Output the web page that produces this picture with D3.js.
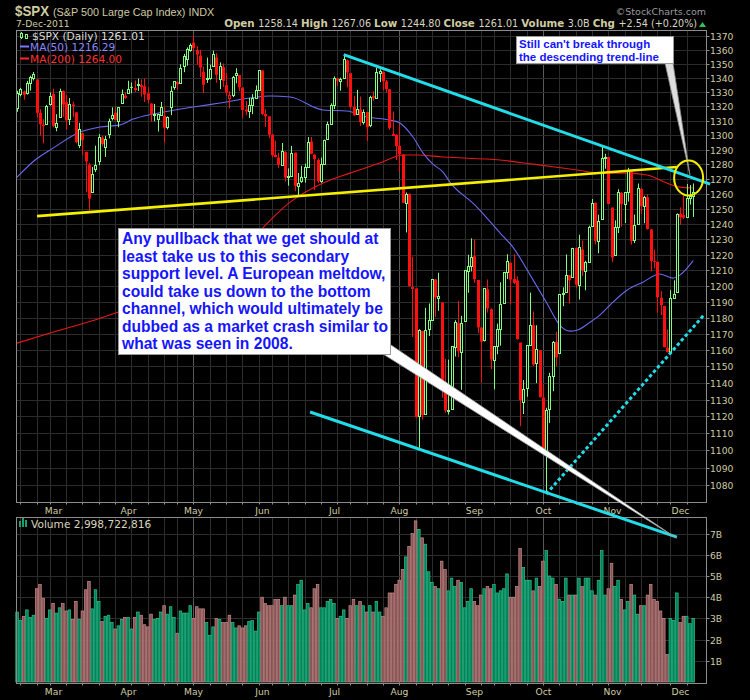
<!DOCTYPE html>
<html><head><meta charset="utf-8">
<script src="https://cdn.jsdelivr.net/npm/d3@7"></script>
<style>body{margin:0;background:#000}svg{display:block}</style>
</head><body><svg id="c" width="750" height="700"></svg>
<script>
// ---------------- DATA ----------------
const holidays = ["2011-02-21","2011-04-22","2011-05-30","2011-07-04","2011-09-05","2011-11-24"];
const firstDay = "2011-02-11", lastDay = "2011-12-07";

const opens = [
1318.7,1328.7,1330.4,1329.0,1336.3,1340.4,1338.9,1315.4,1307.1,1307.3,1321.6,
1328.6,1305.5,1312.4,1330.7,1322.7,1311.1,1321.2,1315.7,1293.4,1301.2,1288.5,1279.5,1261.6,1276.7,1281.7,1298.3,1292.2,1300.6,1311.8,1315.5,1309.4,1321.9,1327.4,
1329.5,1333.6,1332.0,1334.8,1334.8,1334.0,1329.0,1321.9,1314.0,1311.1,1314.0,1313.4,1305.6,1319.4,1333.2,1337.1,1336.8,1348.4,1353.2,1360.1,
1365.2,1359.8,1355.9,1344.2,1340.2,1340.2,1348.3,1354.5,1339.4,1347.6,1334.8,1326.1,1328.3,1342.4,1342.0,1333.1,1317.7,1316.4,1320.6,1325.7,1331.1,
1345.2,1314.5,1312.9,1300.3,1286.3,1284.6,1279.6,1288.3,1271.2,1272.2,1287.9,1265.5,1268.6,1271.5,1278.4,1295.5,1286.6,1283.0,1268.4,1280.2,1296.9,1307.6,
1320.6,1339.6,1337.6,1339.6,1352.4,1343.3,1319.6,1314.5,1317.7,1308.9,1316.0,1307.1,1327.0,1325.6,1343.8,1344.3,1337.4,1331.9,1300.0,1300.1,
1292.6,1286.6,1254.3,1260.2,1199.1,1198.5,1120.2,1171.8,1121.3,1172.9,1178.9,1204.2,1192.9,1189.6,1140.5,1123.6,1124.4,1162.2,1176.7,1158.9,1177.9,1209.8,1213.0,
1219.1,1203.9,1173.97,1165.8,1197.98,1185.4,1153.5,1162.6,1173.3,1189.4,1209.2,1214.99,1204.5,1203.6,1164.6,1128.8,1136.9,1163.3,1175.4,1151.7,1159.9,
1131.2,1097.4,1124.0,1144.1,1165.0,1158.2,1194.6,1196.2,1206.96,1205.7,1224.5,1200.8,1223.5,1209.9,1215.4,1238.7,1254.2,1229.2,1243.97,1284.4,1284.96,
1251.0,1219.6,1238.2,1260.8,1253.2,1261.1,1275.2,1229.6,1240.1,1263.3,1251.7,1257.8,1236.6,1216.2,1215.6,1192.6,1187.5,1161.4,1158.7,1192.6,1196.7,
1246.9,1246.0,1244.3,1257.2,1258.14];

const highs = [
1330.8,1332.9,1330.9,1337.8,1341.5,1344.1,1338.9,1317.9,1310.9,1320.9,1329.6,
1332.3,1314.4,1332.3,1331.1,1327.7,1325.7,1323.2,1315.7,1308.4,1301.3,1288.5,1280.9,1278.2,1292.7,1300.6,1299.3,1299.4,1311.3,1319.2,1319.7,1319.4,1331.7,1329.8,
1337.9,1336.7,1338.2,1339.4,1338.8,1339.5,1333.2,1321.9,1321.6,1314.8,1322.9,1319.7,1312.9,1334.0,1337.5,1337.5,1349.6,1357.1,1361.7,1364.6,
1370.6,1362.6,1360.0,1348.0,1354.4,1349.4,1359.4,1357.6,1351.0,1350.2,1343.3,1330.4,1341.3,1346.8,1342.0,1333.1,1323.5,1325.9,1328.5,1334.6,1345.2,
1345.2,1318.0,1312.9,1300.6,1296.2,1287.9,1294.5,1288.9,1277.2,1292.5,1287.9,1274.1,1279.0,1280.4,1298.6,1298.6,1286.8,1284.0,1284.5,1296.8,1309.2,1321.97,
1341.0,1340.0,1340.1,1356.5,1353.0,1343.3,1327.2,1331.5,1326.7,1317.7,1316.0,1327.3,1330.4,1347.0,1346.1,1344.3,1338.5,1331.9,1316.3,1300.4,
1307.4,1286.6,1261.0,1260.2,1218.9,1198.5,1172.9,1171.8,1186.3,1189.0,1204.5,1204.5,1208.5,1189.6,1154.5,1154.1,1162.4,1178.5,1190.7,1181.2,1210.3,1220.1,1230.7,
1230.0,1203.9,1173.97,1198.6,1204.2,1185.9,1162.5,1176.4,1202.4,1209.1,1220.4,1214.99,1220.4,1206.3,1164.6,1141.7,1163.0,1195.9,1184.0,1175.4,1159.9,
1139.0,1125.1,1146.1,1165.6,1171.4,1194.9,1199.2,1220.3,1207.0,1224.6,1224.6,1233.1,1229.4,1216.2,1239.0,1256.6,1254.2,1246.3,1292.7,1287.1,1284.96,
1251.0,1242.5,1263.2,1261.1,1261.1,1277.6,1275.2,1246.3,1267.0,1263.9,1258.8,1259.6,1237.0,1223.5,1215.6,1196.8,1187.5,1172.7,1197.4,1203.7,1247.1,
1251.1,1260.1,1266.7,1266.0,1267.06];

const lows = [
1316.1,1326.9,1324.6,1328.1,1331.0,1338.1,1312.3,1299.6,1294.3,1307.3,1320.4,
1305.3,1302.6,1312.4,1312.6,1303.9,1306.9,1312.3,1294.3,1291.0,1286.4,1261.1,1249.1,1261.6,1274.8,1279.4,1292.2,1285.0,1297.7,1310.1,1310.2,1305.3,1321.9,1325.0,
1328.9,1329.1,1330.0,1330.7,1326.6,1322.9,1321.9,1309.2,1309.5,1302.4,1313.7,1294.7,1303.9,1313.7,1331.5,1331.7,1336.0,1344.0,1348.6,1358.7,
1358.6,1349.2,1340.5,1329.2,1336.4,1338.6,1348.3,1336.6,1332.0,1333.4,1327.3,1318.5,1326.4,1336.1,1330.7,1311.8,1313.9,1311.8,1314.4,1325.7,1331.1,
1313.7,1305.6,1297.9,1284.9,1284.7,1277.4,1280.0,1268.3,1265.6,1272.2,1261.9,1258.1,1267.4,1267.6,1278.4,1286.8,1262.7,1267.4,1267.5,1280.1,1296.7,1307.6,
1318.0,1334.3,1330.9,1339.2,1333.2,1318.5,1313.3,1314.5,1306.3,1307.2,1295.9,1305.4,1323.7,1325.6,1336.95,1331.1,1329.6,1303.5,1299.2,1282.9,
1274.7,1254.0,1234.6,1199.5,1168.1,1119.3,1101.5,1118.0,1121.3,1168.7,1178.8,1180.5,1184.4,1131.1,1122.1,1121.1,1124.4,1156.1,1155.6,1135.9,1177.9,1195.8,1209.4,
1202.1,1170.6,1140.1,1165.3,1183.3,1148.4,1136.1,1157.4,1162.7,1189.0,1204.5,1188.4,1201.2,1166.4,1114.2,1121.4,1131.7,1163.3,1150.3,1139.9,1131.3,
1098.9,1074.8,1116.1,1135.0,1150.3,1158.2,1187.3,1196.2,1189.0,1205.5,1198.6,1191.5,1206.3,1197.3,1215.4,1238.3,1226.8,1221.1,1243.97,1277.0,1253.2,
1215.4,1219.3,1234.2,1238.4,1240.8,1255.0,1226.6,1227.7,1240.1,1246.7,1240.6,1236.5,1209.4,1211.4,1183.2,1181.7,1161.8,1158.7,1158.7,1191.8,1196.7,
1239.7,1243.4,1244.3,1253.0,1244.80];

const closes = [
1329.2,1332.3,1328.0,1336.3,1340.4,1343.0,1315.4,1307.4,1306.1,1319.9,1327.2,
1306.3,1308.4,1330.9,1321.2,1310.1,1321.8,1320.0,1295.1,1304.3,1296.4,1281.9,1256.9,1273.7,1279.2,1298.4,1293.8,1297.5,1309.7,1313.8,1310.2,1319.4,1328.3,1325.8,
1332.4,1332.9,1332.6,1335.5,1333.5,1328.2,1324.5,1314.2,1314.4,1314.5,1319.7,1305.1,1312.6,1330.4,1337.4,1335.3,1347.2,1355.7,1360.5,1363.6,
1361.2,1356.6,1347.3,1335.1,1340.2,1346.3,1357.2,1342.1,1348.7,1337.8,1329.5,1328.0,1340.7,1343.6,1333.3,1317.4,1316.3,1320.5,1325.7,1331.1,1345.2,
1314.6,1312.9,1300.2,1286.1,1284.9,1279.6,1289.0,1271.0,1271.8,1287.9,1265.4,1267.6,1271.5,1278.4,1295.5,1287.1,1283.5,1268.5,1280.1,1296.7,1307.4,1320.6,
1339.7,1337.9,1339.2,1353.2,1343.8,1319.5,1313.6,1317.7,1308.9,1316.1,1305.4,1326.7,1325.8,1343.8,1345.0,1337.4,1331.9,1304.9,1300.7,1292.3,
1286.9,1254.1,1260.3,1200.1,1199.4,1119.5,1172.5,1120.8,1172.6,1178.8,1204.5,1192.8,1193.9,1140.7,1123.5,1123.8,1162.4,1177.6,1159.3,1176.8,1210.1,1212.9,1218.9,
1204.4,1174.0,1165.2,1198.6,1185.9,1154.2,1162.3,1172.9,1188.7,1209.1,1216.0,1204.1,1202.1,1166.8,1129.6,1136.4,1163.0,1175.4,1151.1,1160.4,1131.4,
1099.2,1124.0,1144.0,1165.0,1155.5,1194.9,1195.5,1207.3,1203.7,1224.6,1200.9,1225.4,1209.9,1215.4,1238.3,1254.2,1229.1,1242.0,1284.6,1285.1,1253.3,
1218.3,1237.9,1261.2,1253.2,1261.1,1275.9,1229.1,1239.7,1263.9,1251.8,1257.8,1236.9,1216.1,1215.7,1193.0,1188.0,1161.8,1158.7,1192.6,1195.2,1247.0,
1244.6,1244.3,1257.1,1258.47,1261.01];

// volume in billions of shares
const volumes = [
3.3,2.9,3.1,3.4,3.05,3.15,4.4,4.6,3.95,3.0,3.4,
3.7,3.25,3.5,3.7,3.35,3.4,2.95,3.8,2.95,3.35,4.35,4.75,3.45,4.35,3.8,2.85,3.1,3.15,2.8,2.5,2.65,2.95,3.05,
3.05,2.5,3.05,3.3,3.15,2.7,2.6,3.2,2.95,3.0,3.3,3.6,3.2,3.55,3.05,2.3,3.35,3.25,3.25,3.6,
3.0,3.55,3.45,3.45,2.8,2.2,2.6,3.0,2.95,2.8,2.8,3.15,2.8,2.55,2.65,2.55,2.65,2.85,2.9,2.4,3.3,
4.0,3.7,3.6,3.6,3.9,3.9,3.6,4.0,3.6,3.6,4.1,4.6,4.8,3.4,3.7,3.5,4.4,4.6,3.5,3.5,3.8,3.9,
3.7,3.0,3.1,3.4,3.0,3.6,3.9,3.6,3.8,3.6,3.3,3.6,3.3,3.8,3.3,3.1,3.5,4.2,4.2,4.6,
4.8,5.3,5.9,6.4,7.0,7.6,7.2,6.8,6.5,5.2,4.7,4.5,4.4,5.7,5.3,4.3,4.9,4.5,4.8,4.7,3.5,3.8,4.4,
3.8,3.6,4.1,4.4,4.5,4.4,4.6,4.2,4.3,4.4,5.1,4.0,4.0,4.5,6.3,5.4,4.8,4.8,4.3,4.9,4.5,
5.7,6.2,5.0,4.9,4.6,3.9,3.8,4.9,4.1,4.1,4.1,4.9,4.5,4.9,4.9,4.3,4.1,4.8,6.2,4.1,4.4,
5.6,4.5,4.8,3.9,3.4,3.8,4.6,4.1,3.2,3.6,3.6,4.1,4.6,3.9,3.8,3.35,3.0,1.3,3.0,2.9,4.2,
2.8,3.1,3.1,2.75,3.0];

// moving averages: [trading-day index, value]
const ma50 = [[0,1271.3],[5.5,1282.9],[11,1291.0],[19.3,1302.0],[25.4,1305.5],[31.5,1306.9],[35.5,1311.0],[41.6,1314.5],[48.3,1317.3],[56,1320.1],[62.1,1322.2],[71.3,1325.7],[77.4,1327.1],[83.6,1326.4],[93.7,1317.3],[101,1316.6],[107.1,1312.4],[114.2,1310.3],[117.2,1308.3],[121.2,1298.6],[124.3,1287.6],[127.3,1280.1],[130.4,1274.7],[132.5,1268.0],[140.2,1252.6],[147.9,1234.2],[151.8,1225.0],[158,1203.8],[162.2,1189.2],[166.2,1175.3],[169.3,1171.7],[171.4,1172.3],[175.4,1177.2],[178.4,1181.7],[181.5,1188.0],[186.7,1197.4],[191.6,1202.5],[196.7,1207.7],[200.8,1205.1],[202.9,1207.0],[207,1216.29]];
const ma200 = [[0,1164.3],[10.1,1170.5],[25.4,1179.8],[40.7,1191.1],[56,1205.1],[71.3,1229.6],[83.6,1254.6],[93.7,1267.3],[101.9,1274.0],[111,1280.8],[118.2,1286.3],[122.4,1286.3],[130.4,1284.9],[147.9,1282.9],[158,1280.1],[171.4,1276.1],[178.4,1274.0],[186.7,1274.0],[192.9,1272.7],[198.9,1267.3],[202.9,1264.6],[207,1264.0]];

const priceTicks = [1080,1090,1100,1110,1120,1130,1140,1150,1160,1170,1180,1190,1200,1210,1220,1230,1240,1250,1260,1270,1280,1290,1300,1310,1320,1330,1340,1350,1360,1370];
const volTicks = [1,2,3,4,5,6,7];
const volTickLabels = ["1B","2B","3B","4B","5B","6B","7B"];
const monthNames = ["Jan","Feb","Mar","Apr","May","Jun","Jul","Aug","Sep","Oct","Nov","Dec"];

// hand-drawn annotations: [trading-day index, price]
const lineYellow = [[6.1,1245.3],[202.0,1278.1]];
const lineTop = [[100,1356.5],[212.2,1266.6]];
const lineBottom = [[89.7,1122.6],[202.0,1050.6]];
const lineDotted = [[162,1074.8],[210.3,1181.8]];
const circleAt = [205.6,1270.7];
const tipLower = [201.8,1050.1];
const tipUpper = [206.0,1272.7];
const noteUpper = ["Still can't break through","the descending trend-line"];
const noteLower = ["Any pullback that we get should at","least take us to this secondary","support level. A European meltdow,","could take us down to the bottom","channel, which would ultimately be","dubbed as a market crash similar to","what was seen in 2008."];

// ---------------- DRAW ----------------
const dates = [];
for (let d = new Date(firstDay+"T00:00:00Z"); d <= new Date(lastDay+"T00:00:00Z"); d.setUTCDate(d.getUTCDate()+1)) {
  const dow = d.getUTCDay(), s = d.toISOString().slice(0,10);
  if (dow > 0 && dow < 6 && !holidays.includes(s)) dates.push(new Date(d));
}

const svg = d3.select("#c");
svg.append("rect").attr("width",750).attr("height",700).attr("fill","#000");

const L = 16.5, R = 706.5, T = 30.5, B = 502.5, VT = 517.5, VB = 683.5;
const x = d3.scaleLinear().domain([0, 207]).range([17.1, 693.2]);
const y = d3.scaleLog().domain([1080, 1370]).range([485, 36]);
const yv = d3.scaleLinear().domain([0, 7]).range([682, 533.6]);

const GREEN = "#80ff80", RED = "#ff1010", AX = "#cfcba2";
const FONT = "DejaVu Sans, Verdana, sans-serif";
const AFONT = "Liberation Sans, Arial, sans-serif";

// week / month starts
const monthStarts = [], weekStarts = [];
dates.forEach((d,i) => {
  if (i === 0) return;
  const p = dates[i-1];
  if (d.getUTCMonth() !== p.getUTCMonth()) monthStarts.push(i);
  if (d.getUTCDay() <= p.getUTCDay() || (d - p) > 3*864e5) weekStarts.push(i);
});

function gridPanel(top, bottom) {
  const g = svg.append("g");
  weekStarts.forEach(i => {
    const xx = Math.round(x(i)) + 0.5;
    g.append("line").attr("x1",xx).attr("x2",xx).attr("y1",top).attr("y2",bottom)
      .attr("stroke", monthStarts.includes(i) ? "#5a5a5a" : "#2c2c2c").attr("stroke-width",1);
  });
  return g;
}

// main panel grid
const gMain = gridPanel(T, B);
priceTicks.forEach(p => {
  const yy = Math.round(y(p)) + 0.5;
  gMain.append("line").attr("x1",L).attr("x2",R).attr("y1",yy).attr("y2",yy).attr("stroke","#2c2c2c");
});
// volume grid
const gVol = gridPanel(VT, VB);
volTicks.forEach(v => {
  const yy = Math.round(yv(v)) + 0.5;
  gVol.append("line").attr("x1",L).attr("x2",R).attr("y1",yy).attr("y2",yy).attr("stroke","#2c2c2c");
});

// MAs
const maLine = d3.line().x(d => x(d[0])).y(d => y(d[1])).curve(d3.curveMonotoneX);
svg.append("path").attr("d", maLine(ma200)).attr("fill","none").attr("stroke","#e81818").attr("stroke-width",1.1);
svg.append("path").attr("d", maLine(ma50)).attr("fill","none").attr("stroke","#6a6aee").attr("stroke-width",1.1);

// candles
const gC = svg.append("g");
closes.forEach((c,i) => {
  const o = opens[i], h = highs[i], l = lows[i];
  const up = i === 0 ? c >= o : c >= closes[i-1];
  const col = up ? GREEN : RED;
  const cx = Math.round(x(i));
  gC.append("line").attr("x1",cx+0.5).attr("x2",cx+0.5).attr("y1",y(h)).attr("y2",y(l)).attr("stroke",col).attr("stroke-width",1);
  const yTop = y(Math.max(o,c)), yBot = y(Math.min(o,c));
  if (c >= o) {
    gC.append("rect").attr("x",cx-0.5).attr("y",Math.round(yTop)+0.5).attr("width",2)
      .attr("height",Math.max(1,Math.round(yBot-yTop))).attr("fill","#000").attr("stroke",col).attr("stroke-width",1);
  } else {
    gC.append("rect").attr("x",cx-1).attr("y",yTop).attr("width",3)
      .attr("height",Math.max(1,yBot-yTop)).attr("fill",col);
  }
});

// volume bars
const gV = svg.append("g");
volumes.forEach((v,i) => {
  const up = i === 0 ? closes[i] >= opens[i] : closes[i] >= closes[i-1];
  gV.append("rect").attr("x",x(i)-1.3).attr("width",2.6).attr("y",yv(v)).attr("height",yv(0)-yv(v))
    .attr("fill", up ? "#00845c" : "#8a5454").attr("stroke", up ? "#2fbf88" : "#c48b8b").attr("stroke-width",0.7);
});

// borders
[[T,B],[VT,VB]].forEach(([t,b]) => {
  svg.append("rect").attr("x",L).attr("y",t).attr("width",R-L).attr("height",b-t).attr("fill","none").attr("stroke","#8c8c8c");
});
// right axis ticks + labels
priceTicks.forEach(p => {
  const yy = Math.round(y(p)) + 0.5;
  svg.append("line").attr("x1",R).attr("x2",R+3).attr("y1",yy).attr("y2",yy).attr("stroke","#8c8c8c");
  svg.append("text").attr("x",710).attr("y",yy).attr("dy","0.35em").attr("fill",AX)
    .attr("font-family",FONT).attr("font-size",9.2).text(p);
});
volTicks.forEach((v,k) => {
  const yy = Math.round(yv(v)) + 0.5;
  svg.append("line").attr("x1",R).attr("x2",R+3).attr("y1",yy).attr("y2",yy).attr("stroke","#8c8c8c");
  svg.append("text").attr("x",710).attr("y",yy).attr("dy","0.35em").attr("fill",AX)
    .attr("font-family",FONT).attr("font-size",9.2).text(volTickLabels[k]);
});
// small bottom ticks
weekStarts.forEach(i => {
  const xx = Math.round(x(i)) + 0.5;
  [B, VB].forEach(b => svg.append("line").attr("x1",xx).attr("x2",xx).attr("y1",b).attr("y2",b+2).attr("stroke","#8c8c8c"));
});
// month labels
monthStarts.forEach(i => {
  [513.5, 695].forEach(yy => svg.append("text").attr("x",Math.round(x(i))+0.5).attr("y",yy).attr("text-anchor","middle")
    .attr("fill",AX).attr("font-family",FONT).attr("font-size",9.2).text(monthNames[dates[i].getUTCMonth()]));
});

// header
svg.append("text").attr("x",15).attr("y",16).attr("fill","#cfcba2").attr("font-family",AFONT)
  .attr("font-weight","bold").attr("font-size",15).attr("textLength",34).attr("lengthAdjust","spacingAndGlyphs").text("$SPX");
svg.append("text").attr("x",53).attr("y",15.5).attr("fill","#cfcba2").attr("font-family",AFONT)
  .attr("font-size",10.8).text("(S&P 500 Large Cap Index) INDX");
svg.append("text").attr("x",706).attr("y",15).attr("text-anchor","end").attr("fill","#9a9a9a").attr("font-family",FONT)
  .attr("font-size",9.5).text("\u00a9StockCharts.com");
svg.append("text").attr("x",16).attr("y",27).attr("fill","#cfcba2").attr("font-family",FONT).attr("font-size",9.2).text("7-Dec-2011");
const last = closes.length - 1;
const chg = closes[last] - closes[last-1];
const hdr = [["Open ",1],[opens[last].toFixed(2)+" ",0],["High ",1],[highs[last].toFixed(2)+" ",0],["Low ",1],[lows[last].toFixed(2)+" ",0],
  ["Close ",1],[closes[last].toFixed(2)+" ",0],["Volume ",1],[volumes[last].toFixed(1)+"B ",0],["Chg ",1],
  ["+"+chg.toFixed(2)+" (+"+(chg/closes[last-1]*100).toFixed(2)+"%)",0]];
const ht = svg.append("text").attr("x",697).attr("y",27).attr("text-anchor","end").attr("font-family",FONT);
hdr.forEach(([s,b]) => ht.append("tspan").attr("font-weight", b ? "bold" : "normal").attr("font-size", b ? 10.3 : 9.6)
  .attr("fill", b ? "#cfcba2" : "#d9d6c0").text(s));
svg.append("path").attr("d","M699,27 L706,27 L702.5,22 Z").attr("fill","#30c060");

// legend
const lg = svg.append("g").attr("font-family",FONT).attr("font-size",10.6);
lg.append("line").attr("x1",21.5).attr("x2",21.5).attr("y1",32).attr("y2",39).attr("stroke",GREEN);
lg.append("rect").attr("x",20.5).attr("y",33.5).attr("width",2).attr("height",4).attr("fill","#000").attr("stroke",GREEN);
lg.append("rect").attr("x",25.5).attr("y",34.5).attr("width",2).attr("height",4).attr("fill","#000").attr("stroke",GREEN);
lg.append("text").attr("x",32).attr("y",40).attr("fill","#dcdcdc").text("$SPX (Daily) " + closes[last].toFixed(2));
lg.append("line").attr("x1",20).attr("x2",29).attr("y1",46.5).attr("y2",46.5).attr("stroke","#7777ff").attr("stroke-width",2);
lg.append("text").attr("x",30).attr("y",51).attr("fill","#8888ff").text("MA(50) " + ma50[ma50.length-1][1].toFixed(2));
lg.append("line").attr("x1",20).attr("x2",29).attr("y1",58.5).attr("y2",58.5).attr("stroke","#ff2828").attr("stroke-width",2);
lg.append("text").attr("x",30).attr("y",62.5).attr("fill","#ff3030").text("MA(200) " + ma200[ma200.length-1][1].toFixed(2));
// volume legend
[[19,521,6],[22,518,9],[25,520,7]].forEach(([bx,by,bh]) => lg.append("rect").attr("x",bx).attr("y",by).attr("width",2).attr("height",bh).attr("fill","#1aa070"));
lg.append("text").attr("x",31).attr("y",528).attr("fill","#d8d5bd").text("Volume " + d3.format(",")(2998722816));

// annotations
const P = d => [x(d[0]), y(d[1])];
const seg = (pts, col, w, dash) => {
  const a = P(pts[0]), b = P(pts[1]);
  const ln = svg.append("line").attr("x1",a[0]).attr("y1",a[1]).attr("x2",b[0]).attr("y2",b[1])
    .attr("stroke",col).attr("stroke-width",w);
  if (dash) ln.attr("stroke-dasharray",dash);
};
seg(lineYellow, "#f4f000", 2.6);
seg(lineTop, "#22dde8", 3);
seg(lineBottom, "#22dde8", 3);
seg(lineDotted, "#22dde8", 3, "3.5,2.5");

// lower callout pointer
const tl = P(tipLower);
svg.append("path").attr("d",`M383,354 L391,345 L${tl[0]},${tl[1]} Z`).attr("fill","#ffffff").attr("stroke","#9a9a9a").attr("stroke-width",0.8);
// upper callout pointer
const tu = P(tipUpper);
svg.append("path").attr("d",`M665,63 L673,63 L${tu[0]},${tu[1]} Z`).attr("fill","#dedede").attr("stroke","#8a8a8a").attr("stroke-width",0.8);

// yellow circle
const cc = P(circleAt);
svg.append("ellipse").attr("cx",cc[0]).attr("cy",cc[1]).attr("rx",14.5).attr("ry",17.5).attr("fill","none").attr("stroke","#f4f000").attr("stroke-width",2);

// boxes
svg.append("rect").attr("x",516.5).attr("y",36.5).attr("width",157).attr("height",27).attr("fill","#fff").attr("stroke","#9a9a9a");
noteUpper.forEach((s,k) => svg.append("text").attr("x",519).attr("y",47.5 + k*13).attr("fill","#1515ff")
  .attr("font-family",AFONT).attr("font-weight","bold").attr("font-size",11.5).text(s));
svg.append("rect").attr("x",118.5).attr("y",228.5).attr("width",272).attr("height",126).attr("fill","#fff").attr("stroke","#9a9a9a");
noteLower.forEach((s,k) => svg.append("text").attr("x",122).attr("y",244 + k*17.5).attr("fill","#1515ff")
  .attr("font-family",AFONT).attr("font-weight","bold").attr("font-size",15.6).text(s));
</script></body></html>
